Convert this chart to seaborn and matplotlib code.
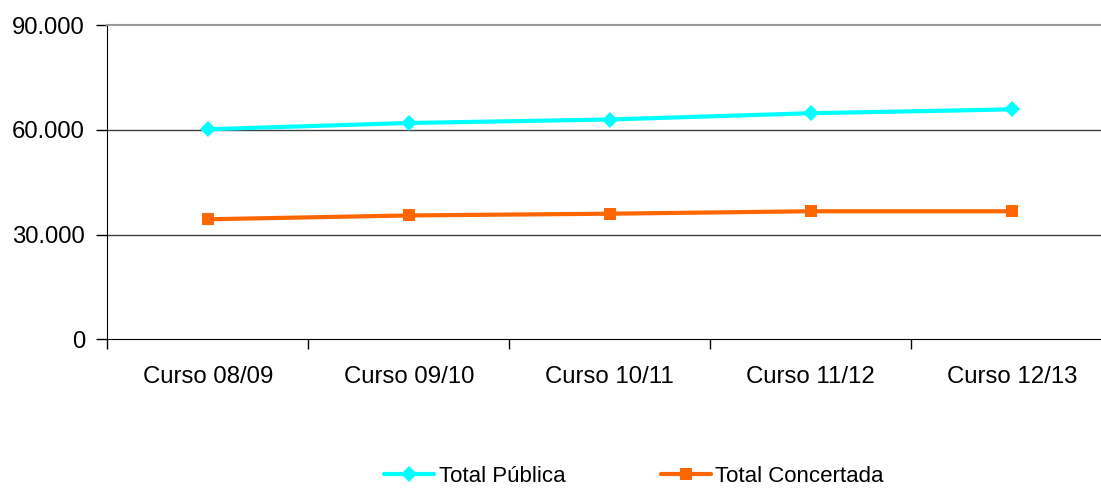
import matplotlib
matplotlib.use("Agg")
import matplotlib.pyplot as plt
import seaborn as sns
import numpy as np
import pandas as pd

# Chart data
cursos = ["Curso 08/09", "Curso 09/10", "Curso 10/11", "Curso 11/12", "Curso 12/13"]
total_publica = [60200, 62000, 63000, 64800, 65900]
total_concertada = [34400, 35500, 36000, 36700, 36700]
y_ticks = [0, 30000, 60000, 90000]
y_labels = ["0", "30.000", "60.000", "90.000"]

sns.set_style("white")
plt.rcParams["font.family"] = ["Liberation Sans", "DejaVu Sans"]
plt.rcParams["text.color"] = "black"
plt.rcParams["xtick.color"] = "black"
plt.rcParams["ytick.color"] = "black"

df = pd.DataFrame({"pos": np.arange(len(cursos)),
                   "publica": total_publica,
                   "concertada": total_concertada})

fig = plt.figure(figsize=(11.01, 4.91), dpi=100)
ax = fig.add_axes([107.3 / 1101, 151.7 / 491, 1005 / 1101, 314 / 491])

sns.lineplot(data=df, x="pos", y="publica", ax=ax, color="#00FFFF", linewidth=3,
             marker="D", markersize=10, markeredgewidth=0, label="Total Pública")
sns.lineplot(data=df, x="pos", y="concertada", ax=ax, color="#FF6600", linewidth=3,
             marker="s", markersize=11, markeredgewidth=0, label="Total Concertada")

ax.set_xlim(-0.5, len(cursos) - 0.5)
ax.set_ylim(0, 90000)
ax.set_xticks(np.arange(len(cursos)))
ax.set_xticklabels(cursos)
ax.set_xticks(np.arange(len(cursos)) - 0.5, minor=True)
ax.tick_params(axis="x", which="major", bottom=True, length=0, pad=19, labelsize=17.3)
ax.tick_params(axis="x", which="minor", bottom=True, length=7, width=1, color="black", direction="out")
ax.set_yticks(y_ticks)
ax.set_yticklabels(y_labels)
ax.tick_params(axis="y", left=True, length=8, width=1, color="black", pad=8, labelsize=17.2, direction="out")
ax.set_xlabel("")
ax.set_ylabel("")

for y in y_ticks[1:3]:
    ax.axhline(y, color="#404040", linewidth=1, zorder=0)
ax.spines["top"].set_color("#999999")
ax.spines["top"].set_linewidth(1.5)
ax.spines["left"].set_color("black")
ax.spines["bottom"].set_color("black")
ax.spines["right"].set_visible(False)

ax.get_legend().remove()
handles, labels = ax.get_legend_handles_labels()
for h in handles:
    h.set_markersize(8)
fig.legend(handles, labels, loc="lower center", bbox_to_anchor=(634 / 1101, 0.0),
           borderaxespad=0.1, borderpad=0.1,
           ncol=2, frameon=False, fontsize=16, handlelength=2.25, columnspacing=4.3,
           handletextpad=0.2)

fig.savefig("out.png", dpi=100)
